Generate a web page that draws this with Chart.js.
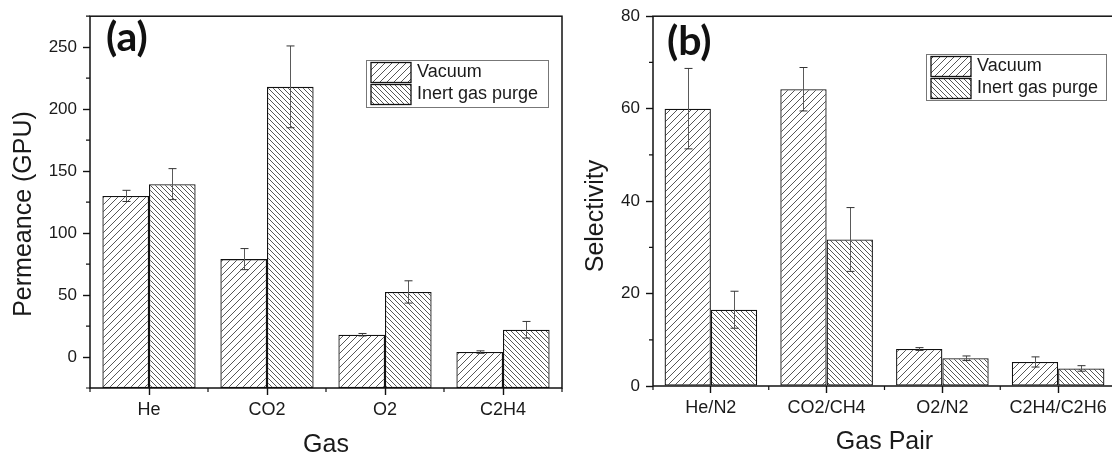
<!DOCTYPE html>
<html>
<head>
<meta charset="utf-8">
<title>Permeance and selectivity</title>
<script src="https://cdn.jsdelivr.net/npm/chart.js@4"></script>
<style>
    html, body { margin: 0; padding: 0; background: #fff; overflow: hidden; }
    #wrap { position: relative; width: 1112px; height: 461px; overflow: hidden; }
    .panel { position: absolute; top: 0; height: 461px; }
    #panelA { left: 0; width: 570px; }
    #panelB { left: 570px; width: 550px; }
</style>
</head>
<body>
<div id="wrap">
    <div class="panel" id="panelA"><canvas id="chartA"></canvas></div>
    <div class="panel" id="panelB"><canvas id="chartB"></canvas></div>
</div>
<script>
// (a) gas permeance, GPU
const gases = ['He', 'CO2', 'O2', 'C2H4'];
const vacuumPermeance = [130, 79, 18, 4];
const vacuumPermeanceErr = [4.5, 8.5, 1, 1];
const purgePermeance = [139.5, 218, 52.5, 22];
const purgePermeanceErr = [12.5, 33, 9, 6.7];
const permeanceTicks = [0, 50, 100, 150, 200, 250];
const permeanceMinor = [-25, 25, 75, 125, 175, 225, 275];

// (b) ideal selectivity
const gasPairs = ['He/N2', 'CO2/CH4', 'O2/N2', 'C2H4/C2H6'];
const vacuumSelectivity = [60, 64.2, 8, 5.2];
const vacuumSelectivityErr = [8.7, 4.7, 0.3, 1.1];
const purgeSelectivity = [16.5, 31.7, 6, 3.8];
const purgeSelectivityErr = [4, 6.9, 0.5, 0.6];
const selectivityTicks = [0, 20, 40, 60, 80];
const selectivityMinor = [10, 30, 50, 70];

const seriesNames = ['Vacuum', 'Inert gas purge'];

const FONT = '"Liberation Sans", Arial, sans-serif';
const INK = '#1a1a1a';

// diagonal hatch fill; dir > 0 draws '/', dir < 0 draws '\'
function hatch(size, dir) {
    const c = document.createElement('canvas');
    c.width = size;
    c.height = size;
    const g = c.getContext('2d');
    g.fillStyle = '#fff';
    g.fillRect(0, 0, size, size);
    g.strokeStyle = '#444';
    g.lineWidth = 0.9;
    g.beginPath();
    if (dir > 0) {
        g.moveTo(-1, size + 1); g.lineTo(size + 1, -1);
        g.moveTo(-1, 1); g.lineTo(1, -1);
        g.moveTo(size - 1, size + 1); g.lineTo(size + 1, size - 1);
    } else {
        g.moveTo(-1, -1); g.lineTo(size + 1, size + 1);
        g.moveTo(size - 1, -1); g.lineTo(size + 1, 1);
        g.moveTo(-1, size - 1); g.lineTo(1, size + 1);
    }
    g.stroke();
    return g.createPattern(c, 'repeat');
}

const vacuumFill = hatch(7, 1);
const purgeFill = hatch(5, -1);

// error bars, frame, minor ticks, legend box, panel letter and y title
const panelPlugin = {
    id: 'panel',
    afterDatasetsDraw(chart, args, opts) {
        const ctx = chart.ctx;
        const {left, right, top, bottom} = chart.chartArea;
        const x = chart.scales.x;
        const y = chart.scales.y;
        ctx.save();

        chart.data.datasets.forEach((ds, i) => {
            chart.getDatasetMeta(i).data.forEach((bar, j) => {
                const hi = y.getPixelForValue(ds.data[j] + ds.errors[j]);
                const lo = y.getPixelForValue(ds.data[j] - ds.errors[j]);
                const cx = Math.round(bar.x) + 0.5;
                ctx.strokeStyle = '#5a5a5a';
                ctx.lineWidth = 1;
                ctx.beginPath();
                ctx.moveTo(cx, hi); ctx.lineTo(cx, lo);
                ctx.stroke();
                ctx.strokeStyle = '#333';
                ctx.beginPath();
                ctx.moveTo(cx - 4, hi); ctx.lineTo(cx + 4, hi);
                ctx.moveTo(cx - 4, lo); ctx.lineTo(cx + 4, lo);
                ctx.stroke();
            });
        });

        ctx.strokeStyle = '#111';
        ctx.lineWidth = 1.5;
        ctx.strokeRect(left, top, right - left, bottom - top);

        ctx.lineWidth = 1.2;
        ctx.beginPath();
        opts.minorY.forEach(v => {
            const py = y.getPixelForValue(v);
            ctx.moveTo(left - 4, py);
            ctx.lineTo(left, py);
        });
        const n = chart.data.labels.length;
        for (let i = -1; i < n; i++) {
            const px = (x.getPixelForValue(i) + x.getPixelForValue(i + 1)) / 2;
            ctx.moveTo(px, bottom);
            ctx.lineTo(px, bottom + 4);
        }
        ctx.stroke();
        ctx.restore();
    },
    afterDraw(chart, args, opts) {
        const ctx = chart.ctx;
        const lg = opts.legend;
        ctx.save();
        ctx.strokeStyle = '#777';
        ctx.lineWidth = 1;
        ctx.strokeRect(lg.x + 0.5, lg.y + 0.5, lg.w, lg.h);
        ctx.font = '18px ' + FONT;
        ctx.textBaseline = 'middle';
        ctx.textAlign = 'left';
        chart.data.datasets.forEach((ds, i) => {
            const sy = lg.y + 2.5 + i * 22;
            ctx.fillStyle = ds.backgroundColor;
            ctx.fillRect(lg.x + 5, sy, 40, 20);
            ctx.strokeStyle = '#111';
            ctx.lineWidth = 1.3;
            ctx.strokeRect(lg.x + 5, sy, 40, 20);
            ctx.fillStyle = INK;
            ctx.fillText(ds.label, lg.x + 51, sy + 10);
        });

        ctx.fillStyle = '#111';
        ctx.font = 'bold 41px Lato, "Open Sans", sans-serif';
        ctx.fillText(opts.letter, opts.letterX, opts.letterY);

        ctx.translate(opts.titleX, opts.titleY);
        ctx.rotate(-Math.PI / 2);
        ctx.textAlign = 'center';
        ctx.fillStyle = INK;
        ctx.font = '25px ' + FONT;
        ctx.fillText(opts.yTitle, 0, 0);
        ctx.restore();
    }
};

function makePanel(canvasId, cfg) {
    return new Chart(document.getElementById(canvasId), {
        type: 'bar',
        data: {
            labels: cfg.labels,
            datasets: [{
                label: seriesNames[0],
                data: cfg.vacuum,
                errors: cfg.vacuumErr,
                base: cfg.min,
                backgroundColor: vacuumFill,
                borderColor: '#111',
                borderWidth: 1.3,
                borderSkipped: false
            }, {
                label: seriesNames[1],
                data: cfg.purge,
                errors: cfg.purgeErr,
                base: cfg.min,
                backgroundColor: purgeFill,
                borderColor: '#111',
                borderWidth: 1.3,
                borderSkipped: false
            }]
        },
        options: {
            responsive: true,
            maintainAspectRatio: false,
            animation: false,
            events: [],
            layout: { padding: cfg.padding },
            datasets: {
                bar: { categoryPercentage: cfg.groupWidth, barPercentage: 1 }
            },
            scales: {
                x: {
                    grid: {
                        offset: false,
                        drawOnChartArea: false,
                        tickLength: 7,
                        tickColor: '#111',
                        tickWidth: 1.4
                    },
                    border: { display: false },
                    ticks: {
                        color: INK,
                        padding: 4,
                        maxRotation: 0,
                        font: { family: FONT, size: 18 }
                    },
                    title: {
                        display: true,
                        text: cfg.xTitle,
                        color: INK,
                        font: { family: FONT, size: 25 },
                        padding: { top: 0, bottom: cfg.xTitlePad }
                    },
                    afterFit(scale) { scale.height = cfg.xAxisHeight; }
                },
                y: {
                    min: cfg.min,
                    max: cfg.max,
                    grid: {
                        drawOnChartArea: false,
                        tickLength: 7,
                        tickColor: '#111',
                        tickWidth: 1.4
                    },
                    border: { display: false },
                    ticks: {
                        color: INK,
                        padding: 6,
                        font: { family: FONT, size: 17 }
                    },
                    afterBuildTicks(scale) {
                        scale.ticks = cfg.ticks.map(v => ({ value: v }));
                    },
                    afterFit(scale) { scale.width = cfg.yAxisWidth; }
                }
            },
            plugins: {
                legend: { display: false },
                tooltip: { enabled: false },
                panel: {
                    minorY: cfg.minor,
                    legend: cfg.legend,
                    letter: cfg.letter,
                    letterX: cfg.letterX,
                    letterY: cfg.letterY,
                    yTitle: cfg.yTitle,
                    titleX: cfg.titleX,
                    titleY: cfg.titleY
                }
            }
        },
        plugins: [panelPlugin]
    });
}

makePanel('chartA', {
    labels: gases,
    vacuum: vacuumPermeance,
    vacuumErr: vacuumPermeanceErr,
    purge: purgePermeance,
    purgeErr: purgePermeanceErr,
    ticks: permeanceTicks,
    minor: permeanceMinor,
    min: -25,
    max: 275,
    groupWidth: 0.79,
    padding: { top: 7, right: 8, left: 0, bottom: 0 },
    yAxisWidth: 90,
    xAxisHeight: 73,
    xTitle: 'Gas',
    xTitlePad: 1,
    yTitle: 'Permeance (GPU)',
    titleX: 24,
    titleY: 214,
    letter: '(a)',
    letterX: 106,
    letterY: 38,
    legend: { x: 366, y: 60, w: 182, h: 47 }
});

makePanel('chartB', {
    labels: gasPairs,
    vacuum: vacuumSelectivity,
    vacuumErr: vacuumSelectivityErr,
    purge: purgeSelectivity,
    purgeErr: purgeSelectivityErr,
    ticks: selectivityTicks,
    minor: selectivityMinor,
    min: 0,
    max: 80,
    groupWidth: 0.8,
    padding: { top: 11, right: 4, left: 0, bottom: 0 },
    yAxisWidth: 83,
    xAxisHeight: 75,
    xTitle: 'Gas Pair',
    xTitlePad: 4,
    yTitle: 'Selectivity',
    titleX: 26,
    titleY: 216,
    letter: '(b)',
    letterX: 97,
    letterY: 42,
    legend: { x: 356, y: 54, w: 180, h: 46 }
});
</script>
</body>
</html>
